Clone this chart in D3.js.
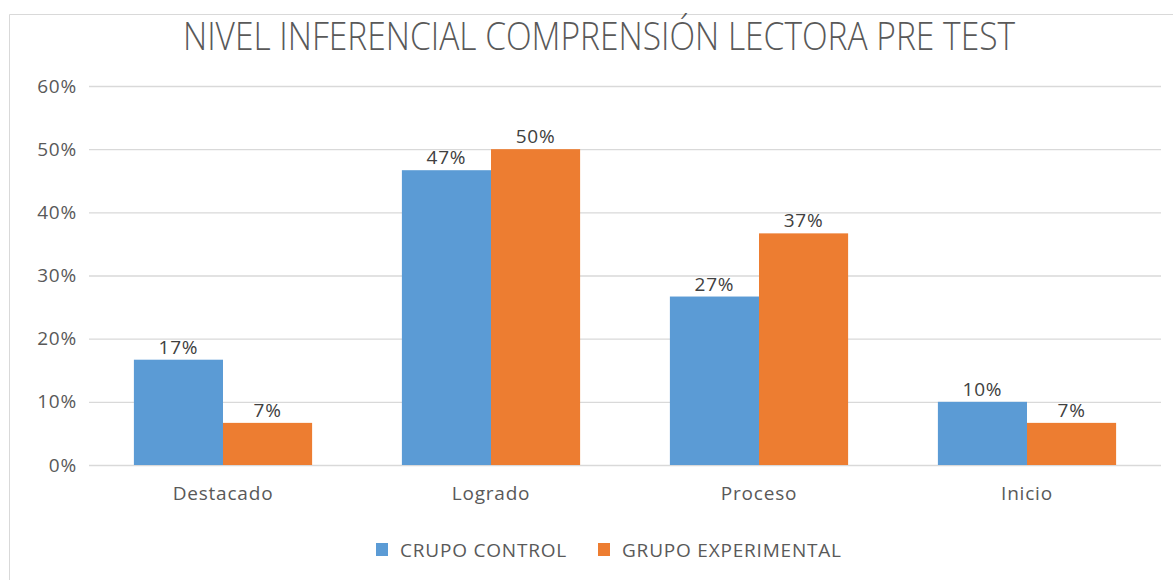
<!DOCTYPE html>
<html>
<head>
<meta charset="utf-8">
<script src="https://cdn.jsdelivr.net/npm/d3@7"></script>
<style>
  html, body { margin: 0; padding: 0; background: #ffffff; }
  svg { display: block; }
  text { font-family: "Open Sans", sans-serif; }
</style>
</head>
<body>
<svg id="chart" width="1173" height="580"></svg>
<script>
const title = "NIVEL INFERENCIAL COMPRENSIÓN LECTORA PRE TEST";
const categories = ["Destacado", "Logrado", "Proceso", "Inicio"];
const seriesNames = ["CRUPO CONTROL", "GRUPO EXPERIMENTAL"];
const controlValues = [0.1667, 0.4667, 0.2667, 0.10];
const experimentalValues = [0.0667, 0.50, 0.3667, 0.0667];
const yTicks = [0, 0.1, 0.2, 0.3, 0.4, 0.5, 0.6];
const colors = ["#5B9BD5", "#ED7D31"];

const series = [controlValues, experimentalValues];
const svg = d3.select("#chart");

// chart border
svg.append("path")
  .attr("d", "M9.5,580 L9.5,14.5 L1173,14.5")
  .attr("fill", "none").attr("stroke", "#D9D9D9").attr("stroke-width", 1);

const plot = { left: 89, right: 1161, top: 86, bottom: 465 };

const x = d3.scaleBand().domain(categories)
  .range([plot.left, plot.right]).paddingInner(0.335).paddingOuter(0.1675);
const xs = d3.scaleBand().domain(d3.range(series.length))
  .range([0, x.bandwidth()]);
const y = d3.scaleLinear().domain([0, 0.6]).range([plot.bottom, plot.top]);

const fs = "19px", ls = "0.8px";

// gridlines
const yAxis = d3.axisLeft(y).tickValues(yTicks).tickFormat(d3.format(".0%"))
  .tickSize(-(plot.right - plot.left)).tickPadding(12);
const gy = svg.append("g").attr("transform", `translate(${plot.left},0)`).call(yAxis);
gy.select(".domain").remove();
gy.selectAll(".tick line").attr("stroke", "#D9D9D9").attr("stroke-width", 1.3);
gy.selectAll(".tick text").attr("fill", "#595959").style("font-size", fs)
  .style("letter-spacing", ls)
  .style("font-family", "'Open Sans', sans-serif");

// bars
const groups = svg.append("g").selectAll("g").data(series).join("g")
  .attr("fill", (d, i) => colors[i]);
groups.each(function(vals, si) {
  const g = d3.select(this);
  g.selectAll("rect").data(vals).join("rect")
    .attr("x", (d, i) => x(categories[i]) + xs(si))
    .attr("y", d => y(d))
    .attr("width", xs.bandwidth())
    .attr("height", d => y(0) - y(d));
  g.selectAll("text").data(vals).join("text")
    .attr("x", (d, i) => x(categories[i]) + xs(si) + xs.bandwidth() / 2)
    .attr("y", d => y(d) - 6)
    .attr("text-anchor", "middle")
    .attr("fill", "#404040")
    .style("font-size", fs).style("letter-spacing", ls)
    .text(d => d3.format(".0%")(d));
});

// x axis labels
const xAxis = d3.axisBottom(x).tickSize(0).tickPadding(22);
const gx = svg.append("g").attr("transform", `translate(0,${plot.bottom})`).call(xAxis);
gx.select(".domain").remove();
gx.selectAll(".tick text").attr("fill", "#595959").style("font-size", fs)
  .style("letter-spacing", ls)
  .style("font-family", "'Open Sans', sans-serif");

// title
svg.append("text")
  .attr("x", 599).attr("y", 50)
  .attr("text-anchor", "middle")
  .attr("fill", "#595959")
  .style("font-size", "38px").style("font-weight", 300)
  .attr("textLength", 832).attr("lengthAdjust", "spacingAndGlyphs")
  .text(title);

// legend
const legendX = [376, 598];
const leg = svg.append("g").selectAll("g").data(seriesNames).join("g")
  .attr("transform", (d, i) => `translate(${legendX[i]},543)`);
leg.append("rect").attr("width", 12).attr("height", 13).attr("fill", (d, i) => colors[i]);
leg.append("text").attr("x", 24).attr("y", 14).attr("fill", "#595959")
  .style("font-size", fs).style("letter-spacing", ls).text(d => d);
</script>
</body>
</html>
